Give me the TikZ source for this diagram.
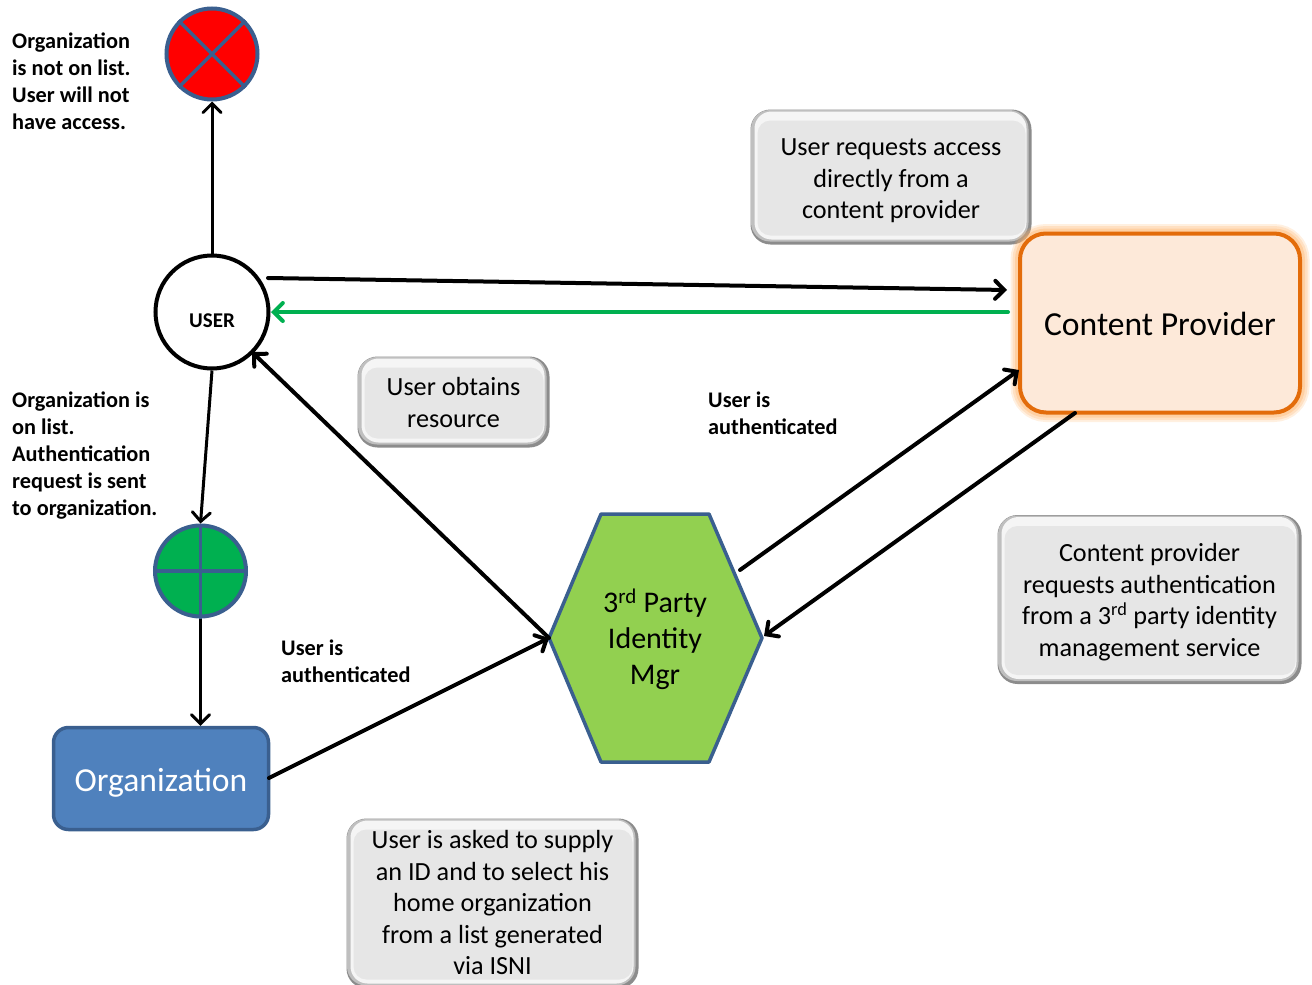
\documentclass[tikz,border=0pt]{standalone}
\usepackage{fontspec}
\setmainfont{Carlito}
\usepackage{tikz}
\usetikzlibrary{arrows.meta}

\definecolor{edgeblue}{HTML}{3A5F8F}
\definecolor{orgblue}{HTML}{4F81BD}
\definecolor{okgreen}{HTML}{00B050}
\definecolor{hexgreen}{HTML}{92D050}
\definecolor{cporange}{HTML}{E36C0A}
\definecolor{cpfill}{HTML}{FDE9D9}
\definecolor{notegray}{HTML}{E6E6E6}

\newcommand{\lowered}[2]{\raisebox{0pt}[\dimexpr\height+#1+#1\relax]{#2}}
\newcommand{\notetext}[2]{\lowered{#1}{\begin{tabular}{@{}c@{}}#2\end{tabular}}}

\tikzset{
    notebox/.style={rectangle, rounded corners=20pt, fill=gray!90, align=center,
        inner sep=0pt, font=\fontsize{26.2}{31.5}\selectfont,
        path picture={
            \fill[gray!50, rounded corners=19pt] ([shift={(0.5pt,-0.5pt)}]path picture bounding box.north west) rectangle ([shift={(-3pt,3pt)}]path picture bounding box.south east);
            \fill[gray!8, rounded corners=17pt] ([shift={(4pt,-2pt)}]path picture bounding box.north west) rectangle ([shift={(-5pt,5pt)}]path picture bounding box.south east);
            \fill[notegray, rounded corners=13pt] ([shift={(7pt,-11pt)}]path picture bounding box.north west) rectangle ([shift={(-6pt,9pt)}]path picture bounding box.south east);
        }},
    remark/.style={align=left, anchor=west, inner sep=0pt, font=\fontsize{22.3}{27}\selectfont\bfseries},
    signal/.style={circle, draw=edgeblue, line width=4pt, inner sep=0pt, minimum size=91pt},
    thick arrow/.style={line width=4pt, line cap=round},
    thin arrow/.style={line width=3pt}
}

\begin{document}
\begin{tikzpicture}[x=1pt, y=-1pt, >={Straight Barb[length=9pt,width=18pt,line cap=round]}]
        \useasboundingbox (0,0) rectangle (1312,985);
        \clip (0,0) rectangle (1312,985);

        % Notes
        \node[notebox, minimum width=281pt, minimum height=135pt] (request) at (891,177) {\notetext{4pt}{User requests access\\directly from a\\content provider}};
        \node[notebox, minimum width=192pt, minimum height=91pt] (obtains) at (453.5,402) {\notetext{3pt}{User obtains\\resource}};
        \node[notebox, minimum width=304pt, minimum height=169pt] (service) at (1149.5,599.5) {\notetext{3pt}{Content provider\\requests authentication\\from a 3\textsuperscript{rd} party identity\\management service}};
        \node[notebox, minimum width=292pt, minimum height=170pt] (supply) at (492.5,903.5) {\notetext{2pt}{User is asked to supply\\an ID and to select his\\home organization\\from a list generated\\via ISNI}};

        % Main shapes
        \node[rectangle, rounded corners=26pt, draw=cporange, fill=cpfill, line width=4pt,
            minimum width=280pt, minimum height=179pt, font=\fontsize{33.6}{38}\selectfont,
            preaction={draw=orange!60, line width=19pt, opacity=.2},
            preaction={draw=orange!60, line width=15pt, opacity=.25},
            preaction={draw=orange!60, line width=10pt, opacity=.35}] (provider) at (1160,323) {\lowered{1pt}{Content Provider}};
        \node[circle, draw, fill=white, line width=4pt, inner sep=0pt, minimum size=113pt, font=\fontsize{21}{25}\selectfont\bfseries] (user) at (212,312) {\lowered{9pt}{USER}};
        \node[signal, fill=red] (deny) at (212,54) {};
        \node[signal, fill=okgreen] (allow) at (200.5,571) {};
        \node[rectangle, rounded corners=15pt, draw=edgeblue, fill=orgblue, line width=3.5pt, text=white,
            minimum width=215pt, minimum height=102pt, font=\fontsize{33.6}{38}\selectfont] (org) at (161,778.5) {\lowered{4pt}{Organization}};

        % Hexagon
        \coordinate (hexw) at (549,638);
        \coordinate (hexe) at (762,638);
        \draw[draw=edgeblue, fill=hexgreen, line width=3.5pt, line join=round] (601,514) -- (709,514) -- (hexe) -- (709,762) -- (601,762) -- (hexw) -- cycle;
        \node[align=center, inner sep=0pt, font=\fontsize{30}{36}\selectfont] (idmgr) at (655,639) {3\textsuperscript{rd} Party\\Identity\\Mgr};

        % Crossing bars
        \draw[draw=edgeblue, line width=3.5pt] (deny.45) -- (deny.225);
        \draw[draw=edgeblue, line width=3.5pt] (deny.135) -- (deny.315);
        \draw[draw=edgeblue, line width=3.5pt] (allow.north) -- (allow.south);
        \draw[draw=edgeblue, line width=3.5pt] (allow.west) -- (allow.east);

        % Remarks
        \node[remark] (notlisted) at (12,81) {Organization\\is not on list.\\User will not\\have access.};
        \node[remark] (listed) at (12,456) {Organization is\\on list.\\Authentication\\request is sent\\to organization.};
        \node[remark] (authleft) at (281,661.5) {User is\\authenticated};
        \node[remark] (authright) at (708,413.5) {User is\\authenticated};

        % Free ends
        \coordinate (userout) at (268,278);
        \coordinate (cpin) at (1007,290);
        \coordinate (cpout) at (1008,312);
        \coordinate (userin) at (271,312);
        \coordinate (hexout) at (740,570);
        \coordinate (cpside) at (1019,370);
        \coordinate (cpbottom) at (1075,413);
        \coordinate (hexin) at (764,636);
        \coordinate (usergap) at (252,352);
        \coordinate (orgeast) at (269,778);

        % Directed edges
        \draw[->, thin arrow] (user.north) -- (deny.south);
        \draw[->, thin arrow] (user.south) -- (allow.north);
        \draw[->, thin arrow] (allow.south) -- (allow.south |- org.north);
        \draw[->, thick arrow] (userout) -- (cpin);
        \draw[->, thick arrow, draw=okgreen] (cpout) -- (userin);
        \draw[->, thick arrow] (hexw) -- (usergap);
        \draw[->, thick arrow] (orgeast) -- (hexw);
        \draw[->, thick arrow] (hexout) -- (cpside);
        \draw[->, thick arrow] (cpbottom) -- (hexin);
    \end{tikzpicture}
\end{document}
